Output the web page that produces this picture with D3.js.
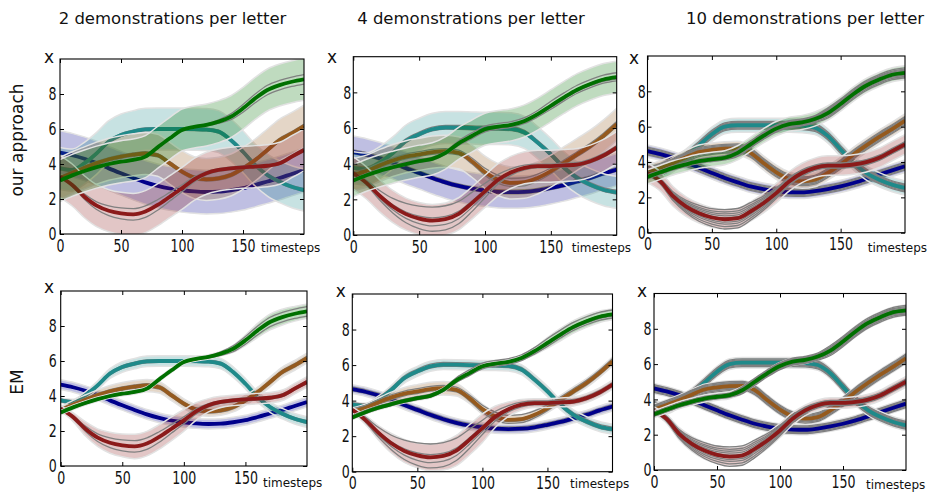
<!DOCTYPE html>
<html>
<head>
<meta charset="utf-8">
<script src="https://cdn.jsdelivr.net/npm/d3@7"></script>
<style>
  body { margin: 0; background: #fff; }
  svg { display: block; }
</style>
</head>
<body>
<svg id="fig" width="928" height="494"></svg>
<script>
// ---- data -----------------------------------------------------------------
const timesteps = [0,10,20,30,40,50,60,70,80,90,100,110,120,130,140,150,160,170,180,190,200];
const columnTitles = ["2 demonstrations per letter", "4 demonstrations per letter", "10 demonstrations per letter"];
const rowTitles = ["our approach", "EM"];
const xTickValues = [0, 50, 100, 150];
const yTickValues = [0, 2, 4, 6, 8];

// mean trajectory of each letter, one list per column (2, 4, 10 demonstrations)
const meanBlue = [
  [4.65,4.5,4.3,4.05,3.75,3.47,3.2,2.95,2.75,2.6,2.5,2.43,2.4,2.42,2.5,2.62,2.8,3.0,3.2,3.43,3.65],
  [4.65,4.5,4.3,4.05,3.75,3.48,3.2,2.95,2.75,2.6,2.5,2.42,2.4,2.42,2.5,2.64,2.8,3.0,3.2,3.45,3.67],
  [4.62,4.45,4.24,3.97,3.67,3.38,3.1,2.85,2.62,2.46,2.34,2.29,2.28,2.35,2.47,2.62,2.81,3.04,3.29,3.53,3.76]
];
const meanTeal = [
  [3.75,3.66,4.04,4.61,5.28,5.66,5.85,5.98,6.0,6.0,6.0,5.99,5.97,5.85,5.37,4.7,3.94,3.37,2.99,2.7,2.51],
  [3.77,3.7,4.05,4.6,5.27,5.65,5.93,6.03,6.02,6.0,5.98,5.98,5.95,5.75,5.18,4.52,3.77,3.2,2.82,2.54,2.39],
  [3.67,3.48,3.86,4.33,4.94,5.57,6.0,6.08,6.08,6.08,6.08,6.08,6.06,5.95,5.48,4.71,3.95,3.38,3.0,2.72,2.53]
];
const meanBrown = [
  [3.18,3.5,3.78,4.05,4.27,4.42,4.53,4.6,4.5,4.04,3.56,3.22,3.12,3.18,3.37,3.75,4.23,4.8,5.37,5.75,6.17],
  [3.39,3.58,3.9,4.18,4.39,4.52,4.65,4.7,4.61,4.14,3.52,3.1,2.92,2.96,3.2,3.58,4.05,4.52,4.99,5.56,6.21],
  [3.42,3.68,3.95,4.27,4.56,4.68,4.75,4.77,4.52,3.95,3.42,3.04,2.91,3.0,3.38,3.86,4.43,4.94,5.42,5.86,6.33]
];
const meanRed = [
  [3.28,2.8,2.13,1.62,1.33,1.18,1.12,1.28,1.66,2.13,2.61,3.12,3.47,3.66,3.75,3.81,3.85,3.9,4.04,4.42,4.8],
  [3.48,2.92,2.2,1.6,1.17,0.92,0.81,0.89,1.19,1.79,2.45,3.1,3.52,3.77,3.86,3.86,3.9,3.95,4.14,4.46,4.9],
  [3.38,2.9,2.05,1.48,1.1,0.86,0.76,0.82,1.2,1.67,2.24,2.9,3.38,3.67,3.8,3.8,3.86,3.99,4.24,4.62,5.0]
];
const meanGreen = [
  [3.05,3.35,3.6,3.82,4.0,4.13,4.23,4.42,4.95,5.47,5.94,6.12,6.23,6.42,6.7,7.18,7.75,8.23,8.51,8.7,8.84],
  [3.05,3.35,3.6,3.8,3.98,4.14,4.27,4.6,5.14,5.55,5.93,6.08,6.18,6.4,6.78,7.25,7.72,8.15,8.47,8.72,8.85],
  [3.16,3.42,3.67,3.87,4.05,4.15,4.24,4.52,5.0,5.48,5.89,6.14,6.24,6.43,6.77,7.28,7.85,8.33,8.67,8.94,9.05]
];

// half-width of the confidence band, "our approach" row (one value per column)
const bandOursBlue  = [1.25, 0.9, 0.35];
const bandOursTeal  = [1.2, 0.9, 0.4];
const bandOursBrown = [1.2, 0.9, 0.4];
const bandOursRed   = [1.2, 0.9, 0.55];
const bandOursGreen = [1.2, 0.9, 0.4];

// half-width of the confidence band, EM row (constant or per timestep)
const bandEMBlue  = [0.28, 0.25, 0.28];
const bandEMTeal  = [
  [0.12,0.15,0.2,0.25,0.28,0.3,0.3,0.3,0.3,0.3,0.3,0.3,0.3,0.3,0.3,0.3,0.3,0.3,0.3,0.3,0.3],
  [0.12,0.15,0.2,0.25,0.28,0.28,0.28,0.28,0.28,0.28,0.28,0.28,0.28,0.28,0.28,0.28,0.28,0.28,0.28,0.28,0.28],
  0.3
];
const bandEMBrown = [
  [0.2,0.25,0.28,0.3,0.33,0.35,0.35,0.35,0.33,0.3,0.28,0.28,0.28,0.28,0.28,0.28,0.28,0.28,0.28,0.28,0.28],
  [0.2,0.22,0.25,0.3,0.35,0.38,0.38,0.38,0.35,0.3,0.28,0.25,0.25,0.25,0.25,0.25,0.25,0.25,0.25,0.25,0.25],
  0.3
];
const bandEMRed = [
  [0.15,0.25,0.4,0.5,0.6,0.65,0.7,0.7,0.7,0.68,0.62,0.5,0.38,0.32,0.3,0.3,0.3,0.3,0.3,0.3,0.3],
  [0.15,0.25,0.4,0.55,0.65,0.7,0.75,0.8,0.85,0.85,0.8,0.6,0.4,0.3,0.25,0.25,0.25,0.25,0.25,0.25,0.25],
  [0.2,0.25,0.35,0.42,0.48,0.5,0.52,0.52,0.5,0.45,0.4,0.35,0.3,0.3,0.3,0.3,0.3,0.3,0.3,0.3,0.3]
];
const bandEMGreen = [
  [0.12,0.12,0.12,0.12,0.12,0.12,0.12,0.12,0.12,0.12,0.12,0.12,0.12,0.12,0.2,0.3,0.4,0.45,0.45,0.42,0.4],
  [0.12,0.12,0.12,0.12,0.12,0.12,0.12,0.12,0.12,0.12,0.12,0.12,0.12,0.12,0.2,0.3,0.35,0.35,0.35,0.32,0.3],
  [0.2,0.2,0.2,0.2,0.2,0.2,0.2,0.2,0.2,0.2,0.2,0.2,0.2,0.2,0.25,0.3,0.3,0.3,0.3,0.3,0.3]
];

// spread of the recorded demonstrations around the mean, per column
const demoPositions = [
  [1, -1],
  [1, 0.2, -0.4, -0.8],
  [1, 0.75, 0.55, 0.35, 0.15, -0.05, -0.3, -0.5, -0.75, -1]
];
const demoSpreadBlue  = [0.04, 0.12, 0.22];
const demoSpreadTeal  = [0.08, 0.12, 0.22];
const demoSpreadBrown = [
  0.1,
  [0.15,0.15,0.15,0.15,0.15,0.15,0.15,0.15,0.15,0.18,0.22,0.25,0.25,0.25,0.22,0.18,0.15,0.15,0.15,0.15,0.15],
  0.25
];
const demoSpreadRed = [
  [0.03,0.08,0.15,0.22,0.28,0.31,0.33,0.33,0.3,0.25,0.2,0.15,0.1,0.08,0.08,0.08,0.08,0.08,0.08,0.08,0.08],
  [0.05,0.15,0.3,0.45,0.6,0.7,0.75,0.75,0.7,0.6,0.45,0.3,0.2,0.15,0.12,0.12,0.12,0.12,0.12,0.12,0.12],
  [0.1,0.15,0.25,0.35,0.45,0.5,0.55,0.55,0.5,0.4,0.3,0.22,0.18,0.15,0.15,0.15,0.15,0.15,0.15,0.15,0.15]
];
const demoSpreadGreen = [
  [0.05,0.05,0.05,0.05,0.05,0.05,0.05,0.05,0.05,0.05,0.05,0.05,0.05,0.1,0.17,0.22,0.25,0.27,0.27,0.27,0.27],
  [0.1,0.1,0.1,0.1,0.1,0.1,0.1,0.1,0.15,0.18,0.18,0.18,0.18,0.18,0.2,0.25,0.25,0.25,0.25,0.25,0.25],
  [0.12,0.12,0.12,0.12,0.12,0.12,0.12,0.2,0.2,0.2,0.2,0.2,0.2,0.2,0.28,0.28,0.28,0.28,0.28,0.28,0.28]
];

// ---- styling & layout -----------------------------------------------------
const letters = [
  { color: "#00008b", mean: meanBlue,  ours: bandOursBlue,  em: bandEMBlue,  spread: demoSpreadBlue },
  { color: "#1f8a8a", mean: meanTeal,  ours: bandOursTeal,  em: bandEMTeal,  spread: demoSpreadTeal },
  { color: "#955a1e", mean: meanBrown, ours: bandOursBrown, em: bandEMBrown, spread: demoSpreadBrown },
  { color: "#8b1a1a", mean: meanRed,   ours: bandOursRed,   em: bandEMRed,   spread: demoSpreadRed },
  { color: "#007000", mean: meanGreen, ours: bandOursGreen, em: bandEMGreen, spread: demoSpreadGreen }
];

// plot boxes [left, top, right, bottom] and label anchors
const panels = [
  { row: 0, col: 0, box: [60, 59, 304, 234],        xLab: [49, 63],    ts: [261, 252],   yPad: 5 },
  { row: 0, col: 1, box: [353.3, 56.7, 616.7, 235], xLab: [332, 63],   ts: [571.7, 252], yPad: 3 },
  { row: 0, col: 2, box: [647.5, 56, 905, 232.7],   xLab: [634, 64],   ts: [867.7, 252], yPad: 2.5 },
  { row: 1, col: 0, box: [60.7, 291, 307, 466],     xLab: [49, 293],   ts: [263, 487],   yPad: 5.5 },
  { row: 1, col: 1, box: [352.3, 294, 612.5, 471.7],xLab: [340.7, 297],ts: [570, 488],   yPad: 3.5 },
  { row: 1, col: 2, box: [654, 293.5, 906, 470],    xLab: [642, 297],  ts: [866, 489],   yPad: 3.5 }
];
const titleX = [172.5, 471, 805];
const rowLabelY = [140, 382];

const at = (v, i) => Array.isArray(v) ? v[i] : v;
const svg = d3.select("#fig");
const FONT = "DejaVu Sans, Verdana, sans-serif";

// column titles
columnTitles.forEach((t, c) => {
  svg.append("text").attr("x", titleX[c]).attr("y", 24)
    .attr("text-anchor", "middle").attr("font-family", FONT).attr("font-size", 16.5)
    .attr("fill", "#111").text(t);
});
// row titles
rowTitles.forEach((t, r) => {
  svg.append("text").attr("transform", `translate(22.5,${rowLabelY[r]}) rotate(-90)`)
    .attr("text-anchor", "middle").attr("font-family", FONT).attr("font-size", 17)
    .attr("fill", "#111").text(t);
});

panels.forEach((p, pi) => {
  const [l, t, r, b] = p.box;
  const x = d3.scaleLinear().domain([0, 200]).range([l, r]);
  const y = d3.scaleLinear().domain([0, 10]).range([b, t]);
  const g = svg.append("g");

  const clipId = "clip" + pi;
  g.append("clipPath").attr("id", clipId)
    .append("rect").attr("x", l).attr("y", t).attr("width", r - l).attr("height", b - t);
  const plot = g.append("g").attr("clip-path", `url(#${clipId})`);

  const line = d3.line().x((d, i) => x(timesteps[i])).y(d => y(d)).curve(d3.curveMonotoneX);
  const area = d3.area().x((d, i) => x(timesteps[i]))
    .y0(d => y(d[0])).y1(d => y(d[1])).curve(d3.curveMonotoneX);

  letters.forEach(L => {
    const mean = L.mean[p.col];
    const half = p.row === 0 ? L.ours[p.col] : L.em[p.col];
    const lo = mean.map((m, i) => m - at(half, i));
    const hi = mean.map((m, i) => m + at(half, i));

    plot.append("path").attr("d", area(mean.map((m, i) => [lo[i], hi[i]])))
      .attr("fill", L.color).attr("fill-opacity", 0.25).attr("stroke", "none");
    [lo, hi].forEach(edge => {
      plot.append("path").attr("d", line(edge)).attr("fill", "none")
        .attr("stroke", "#e2e2e2").attr("stroke-width", 1.5);
    });

    const spread = L.spread[p.col];
    demoPositions[p.col].forEach(k => {
      const demo = mean.map((m, i) => m + k * at(spread, i));
      plot.append("path").attr("d", line(demo)).attr("fill", "none")
        .attr("stroke", "#808080").attr("stroke-width", 1.3);
    });

    plot.append("path").attr("d", line(mean)).attr("fill", "none")
      .attr("stroke", L.color).attr("stroke-width", 3.8).attr("stroke-linecap", "butt");
  });

  // frame
  g.append("rect").attr("x", l).attr("y", t).attr("width", r - l).attr("height", b - t)
    .attr("fill", "none").attr("stroke", "#000").attr("stroke-width", 1.1);

  // axes with inward ticks on all four sides
  const styleAxis = sel => {
    sel.select(".domain").remove();
    sel.selectAll("line").attr("stroke", "#000").attr("stroke-width", 1);
  };
  const ax = g.append("g").attr("transform", `translate(0,${b})`)
    .call(d3.axisBottom(x).tickValues(xTickValues).tickSizeInner(-4).tickSizeOuter(0).tickPadding(5));
  ax.call(styleAxis);
  ax.selectAll("text").attr("font-family", FONT).attr("font-size", 18).attr("fill", "#111")
    .attr("transform", "scale(0.7,1)");
  g.append("g").attr("transform", `translate(0,${t})`)
    .call(d3.axisTop(x).tickValues(xTickValues).tickSizeInner(-4).tickSizeOuter(0).tickFormat(""))
    .call(styleAxis);

  const ay = g.append("g").attr("transform", `translate(${l},0)`)
    .call(d3.axisLeft(y).tickValues(yTickValues).tickSizeInner(-4).tickSizeOuter(0).tickPadding(p.yPad));
  ay.call(styleAxis);
  ay.selectAll("text").attr("font-family", FONT).attr("font-size", 18).attr("fill", "#111")
    .attr("transform", "scale(0.7,1)");
  g.append("g").attr("transform", `translate(${r},0)`)
    .call(d3.axisRight(y).tickValues(yTickValues).tickSizeInner(-4).tickSizeOuter(0).tickFormat(""))
    .call(styleAxis);

  // axis names
  g.append("text").attr("x", p.xLab[0]).attr("y", p.xLab[1]).attr("text-anchor", "middle")
    .attr("font-family", FONT).attr("font-size", 17).attr("fill", "#111").text("x");
  g.append("text").attr("x", p.ts[0]).attr("y", p.ts[1])
    .attr("font-family", FONT).attr("font-size", 12).attr("fill", "#111").text("timesteps");
});
</script>
</body>
</html>
